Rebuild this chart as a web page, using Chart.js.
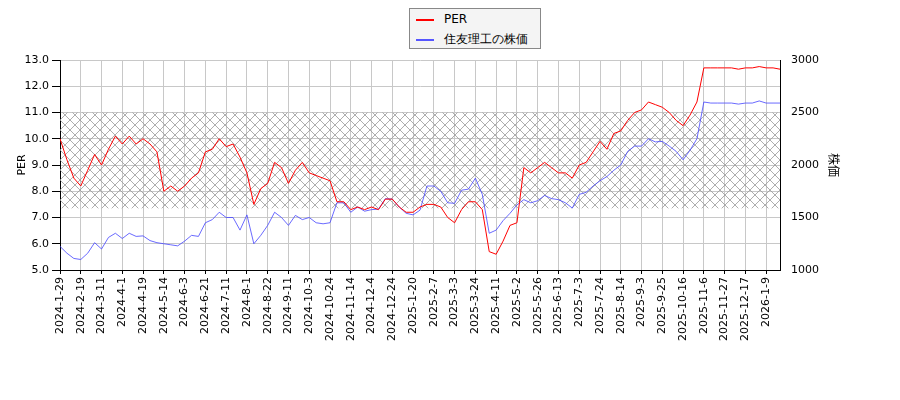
<!DOCTYPE html>
<html><head><meta charset="utf-8">
<script src="https://cdn.jsdelivr.net/npm/chart.js@4/dist/chart.umd.min.js"></script>
<style>
body{margin:0;background:#fff;font-family:"DejaVu Sans",sans-serif;}
#wrap{position:relative;width:900px;height:400px;}
#legend{position:absolute;left:409px;top:8px;width:130px;height:39px;border:1px solid #888;background:#f4f4f4;font-size:12px;}
.it{position:absolute;left:6px;height:16px;line-height:16px;}
.sw{display:inline-block;width:18px;height:0;border-top:2px solid;vertical-align:middle;margin-right:10px;}
</style></head><body>
<div id="wrap"><canvas id="c" width="900" height="400"></canvas>
<div id="legend"><div class="it" style="top:2px"><span class="sw" style="border-color:red"></span>PER</div>
<div class="it" style="top:22px"><span class="sw" style="border-color:#5555ff"></span>住友理工の株価</div></div></div>
<script>
const tickDates=["2024-1-29","2024-2-19","2024-3-11","2024-4-1","2024-4-19","2024-5-14","2024-6-3","2024-6-21","2024-7-11","2024-8-1","2024-8-22","2024-9-11","2024-10-3","2024-10-24","2024-11-14","2024-12-4","2024-12-24","2025-1-20","2025-2-7","2025-3-3","2025-3-24","2025-4-11","2025-5-2","2025-5-26","2025-6-13","2025-7-3","2025-7-24","2025-8-14","2025-9-3","2025-9-25","2025-10-16","2025-11-6","2025-11-27","2025-12-17","2026-1-9"];
const labels=[];
tickDates.forEach((d,i)=>{labels.push(d);if(i<tickDates.length-1){labels.push("");labels.push("");}});
labels.push("");labels.push("");
const per=[10.0,9.2,8.5, 8.2,8.8,9.4, 9.0,9.6,10.1, 9.8,10.1,9.8, 10.0,9.8,9.5, 8.0,8.2,8.0, 8.2,8.5,8.7, 9.5,9.6,10.0, 9.7,9.8,9.3, 8.7,7.5,8.1, 8.3,9.1,8.9, 8.3,8.8,9.1, 8.7,8.6,8.5, 8.4,7.6,7.6, 7.3,7.4,7.3, 7.4,7.3,7.7, 7.7,7.4,7.2, 7.2,7.4,7.5, 7.5,7.4,7.0, 6.8,7.3,7.6, 7.6,7.3,5.7, 5.6,6.1,6.7, 6.8,8.9,8.7, 8.9,9.1,8.9, 8.7,8.7,8.5, 9.0,9.1,9.5, 9.9,9.6,10.2, 10.3,10.7,11.0, 11.1,11.4,11.3, 11.2,11.0,10.7, 10.5,10.9,11.4, 12.7,12.7,12.7, 12.7,12.7,12.65, 12.7,12.7,12.75, 12.7,12.7,12.65];
const price=[1225,1160,1110, 1100,1160,1260, 1200,1310,1350, 1300,1350,1320, 1325,1280,1260, 1250,1240,1230, 1275,1330,1320, 1450,1480,1550, 1500,1500,1380, 1525,1250,1330, 1425,1550,1500, 1425,1520,1480, 1500,1450,1440, 1450,1640,1640, 1550,1600,1560, 1575,1580,1680, 1675,1600,1540, 1525,1570,1800, 1800,1750,1640, 1635,1760,1770, 1875,1720,1350, 1380,1470,1540, 1620,1670,1640, 1660,1710,1680, 1670,1640,1590, 1720,1740,1800, 1850,1890,1950, 2000,2130,2180, 2180,2250,2220, 2225,2180,2130, 2050,2140,2250, 2600,2590,2590, 2590,2590,2580, 2590,2590,2610, 2590,2590,2590];
const bandLow=7.35, bandHigh=11.0;

function hatch(){const p=document.createElement('canvas');p.width=10;p.height=10;const g=p.getContext('2d');
g.strokeStyle='#999';g.lineWidth=0.8;g.beginPath();g.moveTo(0,0);g.lineTo(10,10);g.moveTo(10,0);g.lineTo(0,10);g.stroke();return p;}
const bandPlugin={id:'band',beforeDatasetsDraw(ch){const {ctx,chartArea:a,scales:{y}}=ch;
const t=y.getPixelForValue(bandHigh),b=y.getPixelForValue(bandLow);ctx.save();
ctx.fillStyle=ctx.createPattern(hatch(),'repeat');ctx.fillRect(a.left,t,a.right-a.left,b-t);ctx.restore();}};
const font={family:"DejaVu Sans",size:11};
const isTick=i=>labels[i]!=="";
new Chart(document.getElementById('c'),{type:'line',
data:{labels,datasets:[
{label:'PER',data:per,yAxisID:'y',borderColor:'red',borderWidth:1,pointRadius:0,tension:0},
{label:'住友理工の株価',data:price,yAxisID:'y1',borderColor:'#4444ff',borderWidth:0.8,pointRadius:0,tension:0}]},
options:{responsive:false,animation:false,layout:{padding:{top:60,right:55,left:12,bottom:0}},
plugins:{legend:{display:false},tooltip:{enabled:false}},
scales:{
x:{offset:false,grid:{color:c=>isTick(c.index)?'#c8c8c8':'rgba(0,0,0,0)',drawTicks:true,tickLength:4,
tickColor:c=>isTick(c.index)?'#000':'rgba(0,0,0,0)'},border:{color:'#000'},
ticks:{autoSkip:false,maxRotation:90,minRotation:90,color:'#000',font,callback:(v,i)=>labels[i]},
afterFit(s){s.height=130;}},
y:{position:'left',min:5,max:13,grid:{color:'#c8c8c8',tickColor:'#000'},border:{color:'#000'},
ticks:{stepSize:1,color:'#000',font,callback:v=>v.toFixed(1)},
title:{display:true,text:'PER',color:'#000',font},afterFit(s){s.width=48;}},
y1:{position:'right',min:1000,max:3000,grid:{display:false},border:{color:'#000'},
ticks:{stepSize:500,color:'#000',font,callback:v=>String(v)},
title:{display:true,text:'株価',color:'#000',font:{family:"Noto Sans CJK JP",size:12}},afterFit(s){s.width=65;}}
}},plugins:[bandPlugin]});
</script></body></html>
